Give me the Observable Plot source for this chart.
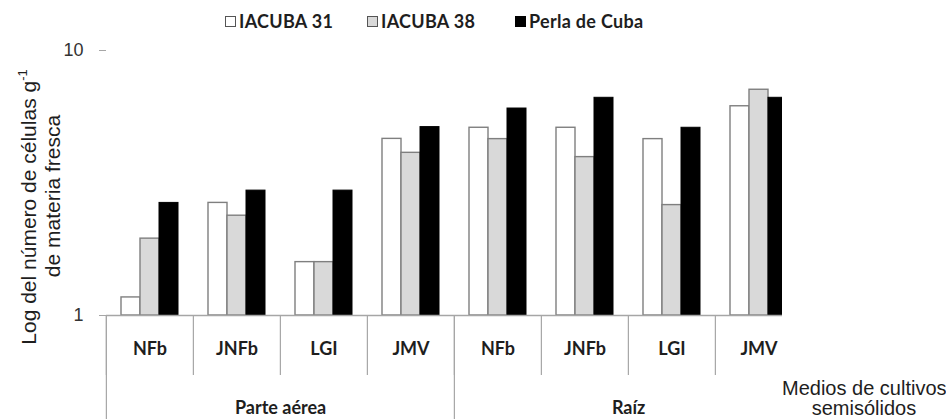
<!DOCTYPE html>
<html>
<head>
<meta charset="utf-8">
<script src="https://cdn.jsdelivr.net/npm/d3@7"></script>
<script src="https://cdn.jsdelivr.net/npm/@observablehq/plot@0.6"></script>
<style>
  html, body { margin: 0; padding: 0; background: #fff; }
  #wrap { position: relative; width: 946px; height: 419px; overflow: hidden; background: #fff; }
  #legend { position: absolute; left: 0; top: 0; width: 946px; height: 40px;
            font: bold 18px Lato, "Open Sans", sans-serif; color: #1e1e1e; white-space: nowrap; }
  .sw { position: absolute; top: 16px; width: 11px; height: 11px; box-sizing: border-box; }
  .lt { position: absolute; top: 10px; line-height: 22px; letter-spacing: 0.3px; }
  #chart { position: absolute; left: 0; top: 40px; }
  #ytitle { position: absolute; left: -119px; top: 172px; width: 320px; height: 48px; text-align: center;
            font: 21px "Liberation Sans", Arial, sans-serif; line-height: 24px; color: #1e1e1e;
            transform: rotate(-90deg); transform-origin: 50% 50%; white-space: nowrap; }
  #ytitle .l1 { position: relative; left: -11px; }
  #ytitle sup { font-size: 13px; line-height: 0; vertical-align: 9px; }
  #cover { position: absolute; left: 782px; top: 40px; width: 164px; height: 379px; background: #fff; }
  #xcap { position: absolute; left: 0; top: 338px; width: 164px; text-align: center;
          font: 20px "Liberation Sans", Arial, sans-serif; line-height: 20px; color: #1e1e1e; white-space: nowrap; }
</style>
</head>
<body>
<div id="wrap">
  <div id="legend"></div>
  <div id="chart"></div>
  <div id="ytitle"><span class="l1">Log del número de células g<sup>-1</sup></span><br>de materia fresca</div>
  <div id="cover"><div id="xcap">Medios de cultivos<br>semisólidos</div></div>
</div>
<script>
// ---- data ----
const parts = ["Parte aérea", "Raíz"];
const media = ["NFb", "JNFb", "LGI", "JMV"];
const series = ["IACUBA 31", "IACUBA 38", "Perla de Cuba"];
const iacuba31 = [1.17, 2.66, 1.59, 4.64, 5.11, 5.11, 4.63, 6.16];
const iacuba38 = [1.95, 2.38, 1.59, 4.11, 4.63, 3.96, 2.61, 7.11];
const perla    = [2.66, 2.96, 2.96, 5.14, 6.04, 6.63, 5.11, 6.63];
const yTicks = [1, 10];
const fills = ["#ffffff", "#d9d9d9", "#000000"];
const edges = ["#7f7f7f", "#7f7f7f", "#000000"];
const legendX = [225, 367, 515];

const groups = parts.flatMap(p => media.map(m => p + "|" + m));
const seriesValues = [iacuba31, iacuba38, perla];
const data = groups.flatMap((g, i) => series.map((s, j) => ({group: g, series: s, value: seriesValues[j][i]})));

// ---- legend ----
const legend = document.getElementById("legend");
series.forEach((s, j) => {
  const sw = document.createElement("span");
  sw.className = "sw";
  sw.style.left = legendX[j] + "px";
  sw.style.background = fills[j];
  sw.style.border = "1px solid " + (j === 2 ? "#000" : "#555");
  const tx = document.createElement("span");
  tx.className = "lt";
  tx.style.left = (legendX[j] + 14) + "px";
  tx.textContent = s;
  legend.appendChild(sw); legend.appendChild(tx);
});

// ---- chart ----
const W = 946, H = 379, mL = 105, mR = 143, mT = 10, mB = 104;
const groupW = (W - mL - mR) / groups.length;
const axisGray = "#a6a6a6";
const labelFont = "Lato, 'Open Sans', sans-serif";

const chart = Plot.plot({
  width: W, height: H,
  marginLeft: mL, marginRight: mR, marginTop: mT, marginBottom: mB,
  style: {fontFamily: "'Liberation Sans', Arial, sans-serif", background: "transparent", overflow: "visible"},
  fx: {domain: groups, padding: 0, label: null, axis: null},
  x: {domain: series, paddingInner: 0, paddingOuter: 0.75, axis: null},
  y: {type: "log", domain: [1, 10], axis: null},
  color: {domain: series, range: fills},
  marks: [
    Plot.barY(data, {fx: "group", x: "series", y1: 1, y2: "value", fill: "series",
      stroke: edges[0], strokeWidth: 1.4, filter: d => d.series !== series[2]}),
    Plot.barY(data, {fx: "group", x: "series", y1: 1, y2: "value", fill: "series",
      stroke: edges[2], strokeWidth: 1, filter: d => d.series === series[2]}),
    Plot.ruleY([1], {stroke: axisGray, strokeWidth: 1.3}),
    Plot.axisY({ticks: yTicks, tickFormat: d => String(d), tickSize: 7, tickPadding: 16, line: true,
      stroke: axisGray, fill: "#333", fontSize: 18, label: null}),
    // short separators between media
    Plot.axisFx({anchor: "bottom", ticks: groups, tickSize: 60, dx: -groupW / 2,
      tickFormat: () => "", stroke: axisGray, strokeWidth: 1.2, label: null}),
    // long separators between plant parts
    Plot.axisFx({anchor: "bottom", ticks: [groups[0], groups[media.length]], tickSize: 110, dx: -groupW / 2,
      tickFormat: () => "", stroke: axisGray, strokeWidth: 1.2, label: null}),
    // media labels
    Plot.axisFx({anchor: "bottom", ticks: groups, tickSize: 0, tickPadding: 27,
      tickFormat: d => d.split("|")[1], fontSize: 18, fontWeight: "bold", fontFamily: labelFont,
      letterSpacing: "1.4px", fill: "#1e1e1e", label: null}),
    // part labels
    Plot.axisFx({anchor: "bottom", ticks: [groups[1], groups[media.length + 1]], tickSize: 0, tickPadding: 86,
      dx: groupW / 2, tickFormat: d => d.split("|")[0], fontSize: 18, fontWeight: "bold", fontFamily: labelFont,
      letterSpacing: "1.4px", fill: "#1e1e1e", label: null})
  ]
});
document.getElementById("chart").appendChild(chart);
</script>
</body>
</html>
